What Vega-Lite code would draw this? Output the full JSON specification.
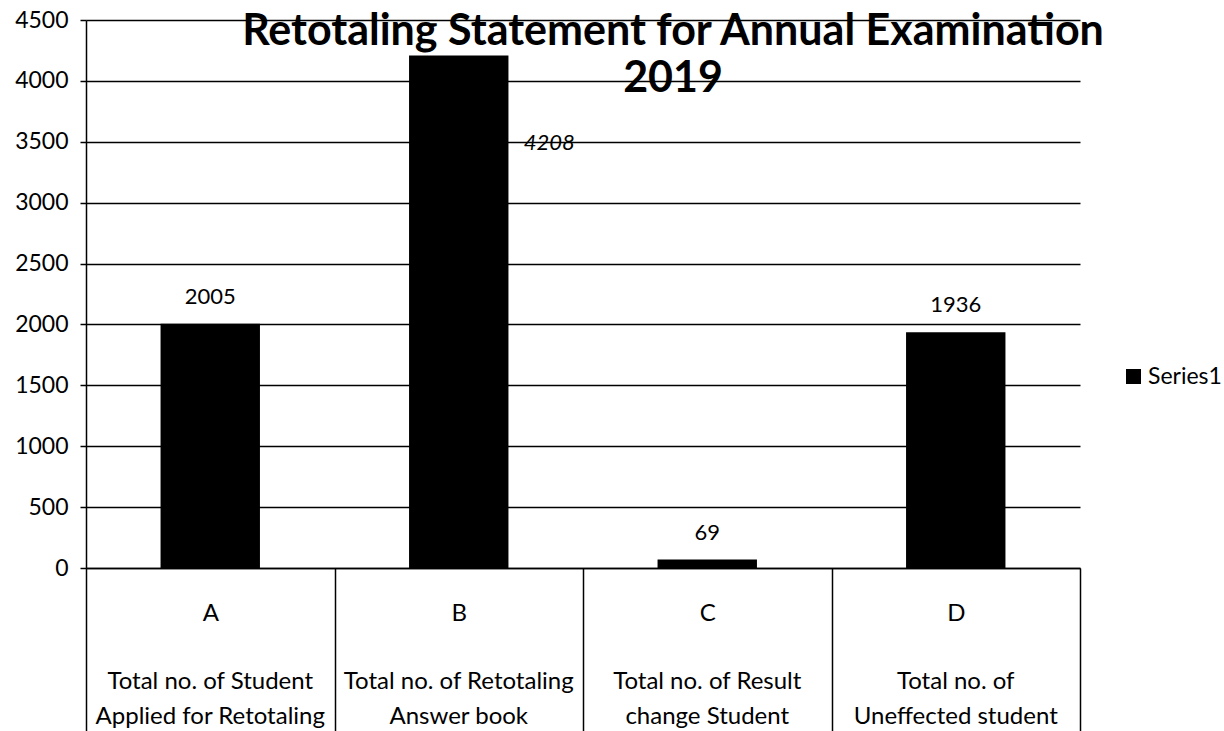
{
  "$schema": "https://vega.github.io/schema/vega-lite/v6.json",
  "width": 994,
  "height": 548,
  "autosize": {"type": "none"},
  "padding": {"left": 86, "top": 20, "right": 144, "bottom": 163},
  "background": "white",
  "title": {
    "text": ["Retotaling Statement for Annual Examination", "2019"],
    "anchor": "middle",
    "frame": "group",
    "dx": 90,
    "baseline": "top",
    "offset": -92,
    "fontSize": 43,
    "font": "Lato",
    "fontWeight": "bold",
    "color": "black",
    "lineHeight": 47
  },
  "data": {
    "values": [
      {"category": "A|Total no. of Student|Applied for Retotaling", "value": 2005, "series": "Series1"},
      {"category": "B|Total no. of Retotaling|Answer book", "value": 4208, "series": "Series1"},
      {"category": "C|Total no. of Result|change Student", "value": 69, "series": "Series1"},
      {"category": "D|Total no. of|Uneffected student", "value": 1936, "series": "Series1"}
    ]
  },
  "encoding": {
    "y": {
      "field": "value",
      "type": "quantitative",
      "scale": {"domain": [0, 4500], "nice": false},
      "axis": {
        "title": null,
        "values": [0, 500, 1000, 1500, 2000, 2500, 3000, 3500, 4000, 4500],
        "format": "d",
        "labelFontSize": 23,
        "labelFont": "Lato",
        "labelColor": "black",
        "labelPadding": 12,
        "tickSize": 6,
        "tickColor": "black",
        "tickWidth": 1.5,
        "grid": true,
        "gridColor": "black",
        "gridWidth": 1.5,
        "gridOpacity": 1,
        "domainColor": "black",
        "domainWidth": 1.5
      }
    }
  },
  "layer": [
    {
      "mark": {"type": "bar", "width": {"band": 0.4}},
      "encoding": {
        "x": {
          "field": "category",
          "type": "nominal",
          "sort": null,
          "scale": {"paddingInner": 0, "paddingOuter": 0},
          "axis": {
            "orient": "bottom",
            "title": null,
            "grid": false,
            "tickBand": "extent",
            "tickSize": 163,
            "tickColor": "black",
            "tickWidth": 1.5,
            "labelPadding": -130,
            "labelBaseline": "top",
            "labelFontSize": 24,
            "labelFont": "Lato",
            "labelColor": "black",
            "labelAngle": 0,
            "labelOverlap": false,
            "labelBound": false,
            "labelFlush": false,
            "labelExpr": "isString(datum.value) ? split(datum.value,'|')[0] : ''",
            "domainColor": "black",
            "domainWidth": 1.5
          }
        },
        "color": {
          "field": "series",
          "type": "nominal",
          "scale": {"range": ["black"]},
          "legend": {
            "title": null,
            "orient": "none",
            "legendX": 1036,
            "legendY": 345,
            "padding": 0,
            "symbolType": "square",
            "symbolSize": 225,
            "symbolStrokeWidth": 0,
            "labelFontSize": 23,
            "labelFont": "Lato",
            "labelColor": "black",
            "labelOffset": 3
          }
        }
      }
    },
    {
      "transform": [{"filter": "datum.value != 4208"}],
      "mark": {"type": "text", "baseline": "alphabetic", "dy": -20, "fontSize": 22, "font": "Lato", "color": "black"},
      "encoding": {
        "x": {
          "field": "category",
          "type": "nominal",
          "sort": null,
          "axis": {
            "orient": "bottom",
            "title": null,
            "grid": false,
            "ticks": false,
            "domain": false,
            "labelPadding": 101,
            "labelBaseline": "top",
            "labelLineHeight": 35,
            "labelFontSize": 24,
            "labelFont": "Lato",
            "labelColor": "black",
            "labelLimit": 400,
            "labelAngle": 0,
            "labelOverlap": false,
            "labelBound": false,
            "labelFlush": false,
            "labelExpr": "isString(datum.value) ? [split(datum.value,'|')[1], split(datum.value,'|')[2]] : ''"
          }
        },
        "text": {"field": "value", "type": "quantitative", "format": "d"}
      }
    },
    {
      "transform": [{"filter": "datum.value == 4208"}],
      "mark": {"type": "text", "baseline": "middle", "align": "left", "dx": 65, "dy": 87, "fontSize": 22, "font": "Lato", "fontStyle": "italic", "color": "black"},
      "encoding": {
        "x": {"field": "category", "type": "nominal", "sort": null, "axis": null},
        "text": {"field": "value", "type": "quantitative", "format": "d"}
      }
    }
  ],
  "resolve": {"axis": {"x": "independent"}},
  "config": {"view": {"stroke": null}}
}
